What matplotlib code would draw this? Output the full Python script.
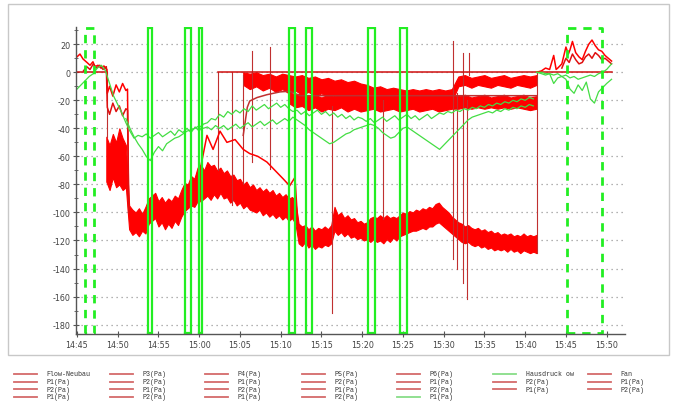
import numpy as np
import matplotlib
matplotlib.use("Agg")
import matplotlib.pyplot as plt
from matplotlib.lines import Line2D
from matplotlib.patches import Rectangle

nan = np.nan
# ---------------- data (time = minutes after 14:45, values in Pa) ----------------
XTICK_MIN = [0, 5, 10, 15, 20, 25, 30, 35, 40, 45, 50, 55, 60, 65]
XTICK_LABELS = ["14:45", "14:50", "14:55", "15:00", "15:05", "15:10", "15:15",
                "15:20", "15:25", "15:30", "15:35", "15:40", "15:45", "15:50"]
YTICKS = [20, 0, -20, -40, -60, -80, -100, -120, -140, -160, -180]

# main low-pressure band (envelope of the dense red traces)
BAND_T = np.round(np.arange(3.6, 56.41, 0.4), 2)
BAND_TOP = [-46, -52, -44, -50, -40, -47, -52, -95, -98, -100, -97, -101, -96, -90, -88, -86,
            -92, -89, -93, -90, -92, -88, -90, -84, -79, -80, -74, -76, -68, -66, -70, -64,
            -67, -66, -70, -68, -72, -70, -74, -73, -77, -76, -80, -78, -82, -80, -84, -82,
            -85, -83, -86, -84, -88, -86, -89, -87, -90, -89, -92, -108, -110, -109, -112, -110,
            -113, -111, -112, -110, -112, -109, -96, -102, -100, -104, -102, -105, -104, -107, -106, -108,
            -107, -104, -103, -104, -102, -104, -102, -104, -103, -104, -102, -100, -101, -99, -100, -98,
            -99, -97, -98, -96, -97, -94, -93, -96, -98, -100, -103, -105, -107, -108, -110, -109,
            -111, -112, -111, -113, -112, -114, -113, -115, -114, -116, -115, -116, -115, -117, -116, -117,
            -115, -117, -116, -117, -116]
BAND_BOT = [-78, -84, -75, -82, -80, -84, -82, -112, -116, -114, -117, -113, -115, -108, -106, -104,
            -110, -107, -112, -108, -111, -106, -109, -103, -99, -97, -95, -96, -92, -92, -90, -88,
            -91, -87, -90, -86, -90, -89, -93, -91, -95, -93, -97, -95, -98, -99, -100, -98,
            -102, -100, -103, -101, -104, -102, -105, -103, -106, -104, -108, -122, -124, -121, -125, -123,
            -126, -124, -125, -123, -124, -122, -113, -116, -114, -117, -115, -118, -117, -119, -118, -120,
            -119, -121, -119, -121, -120, -122, -119, -121, -118, -120, -117, -116, -115, -114, -113, -113,
            -112, -111, -112, -110, -110, -108, -107, -109, -111, -113, -115, -117, -119, -121, -122, -121,
            -123, -124, -123, -125, -124, -126, -125, -127, -126, -127, -126, -128, -126, -128, -127, -129,
            -127, -128, -129, -128, -129]

# upper pressure bands (15:02 - 15:41)
UB_T = np.round(np.arange(17.2, 56.41, 0.8), 2)
UB1_TOP = [nan, nan, nan, nan, 0, -1, 0, -2, -1, -3, -1, -2, -3, -2, -4, -3, -5, -4, -6, -5,
           -7, -6, -8, -9, -11, -10, -12, -11, -12, -13, -12, -13, -12, -13, -12, -13, -12,
           -3, -2, -4, -3, -2, -4, -3, -2, -4, -3, -2, -3, -2]
UB1_BOT = [nan, nan, nan, nan, -9, -12, -10, -13, -11, -14, -12, -15, -13, -16, -14, -17, -15, -18, -16, -18,
           -17, -19, -18, -20, -19, -21, -20, -22, -21, -22, -21, -22, -21, -22, -21, -22, -21,
           -10, -9, -11, -9, -10, -11, -9, -10, -11, -9, -10, -11, -9]
UB2_TOP = [nan] * 11 + [-14, -16, -15, -17, -16, -18, -16, -17, -15, -17, -16, -18, -17, -16, -18, -17,
                        -16, -18, -17, -16, -18, -17, -16, -18, -17, -16, -17, -16, -18, -17, -16, -18,
                        -17, -16, -18, -17, -16, -18, -17]
UB2_BOT = [nan] * 11 + [-22, -25, -24, -27, -25, -28, -26, -27, -25, -28, -26, -28, -27, -26, -28, -27,
                        -26, -28, -27, -26, -28, -27, -26, -28, -27, -26, -26, -25, -26, -25, -26, -25,
                        -26, -25, -26, -25, -26, -27, -26]

# individual red traces
S1_T = [0, 0.37, 0.74, 1.23, 1.6, 1.96, 2.2, 2.58, 2.94, 3.31, 3.68, 3.72, 4.0, 4.4, 4.8, 5.2, 5.6, 6.0, 6.2, 6.35]
S1_V = [11, 13, 9.5, 7, 5, 7.5, 4, 5, 3, 4.5, 2, -15, -10, -17, -9, -14, -8, -13, -12, -98]
S2_T = [0.8, 1.2, 1.6, 2.0, 2.4, 2.8, 3.2, 3.6, 3.72, 4.0, 4.4, 4.8, 5.2, 5.6, 6.0, 6.2, 6.35]
S2_V = [1, 4, 2, 6, 3, 5, 2, 4, -25, -30, -22, -28, -24, -31, -26, -27, -100]
HOOK_T = [15.1, 15.95, 16.7, 17.55, 18.4, 19.4, 20.4, 21.2, 22.2, 23.3, 24.3, 25.3, 26.1, 26.75, 27.1]
HOOK_V = [-70, -45, -55, -42, -50, -48, -55, -58, -60, -64, -70, -76, -81, -75, -108]
LOWB_T = [20.4, 20.9, 21.2, 22.1, 23.3, 24.9, 26.1, 27.4, 56.4]
LOWB_V = [-45, -25, -20.5, -18, -16, -14, -13.5, -16.7, -16.7]
FAN_T = [0.0, 3.68, 3.69, 17.3, 17.31, 65.6]
FAN_V = [0, 0, nan, nan, 0, 0]
RE1_T = [56.4, 57, 57.5, 58, 58.5, 58.8, 59, 59.5, 60, 60.3, 60.5, 60.8, 61.2, 61.6, 62, 62.4,
         62.8, 63.2, 63.6, 64, 64.4, 64.8, 65.2, 65.6]
RE1_V = [0, 1, 3, 2, 12, 2, 3, 6, 18, 13, 16, 22, 14, 11, 9, 15, 20, 23, 19, 16, 15, 12, 10, 8]
RE2_T = [59.5, 60, 60.4, 60.8, 61.2, 61.6, 62, 62.4, 62.8, 63.2, 63.6, 64, 64.4, 64.8, 65.2, 65.6]
RE2_V = [3, 10, 7, 13, 9, 6, 7, 11, 13, 10, 14, 12, 9, 10, 8, 6]

# thin dark-red spikes (time, from, to)
SPIKE_T = [3.68, 17.3, 19.0, 20.4, 21.5, 23.7, 31.3, 37.5, 46.1, 46.6, 47.4, 47.9, 48.1, 56.4]
SPIKE_FROM = [0, -70, -95, -80, -64, -69, -24, -20, 22, -15, 14, -20, 14, 0]
SPIKE_TO = [-46, 0, 0, -2, 15, 18, -172, -105, -133, -140, -150, -162, -2, -129]

# green pressure traces
G_T = np.round(np.arange(0, 56.01, 0.5), 2)
G1_V = [-12, -9, -6, -3, -1, 3, 5, 1, -8, -17, -23, -29, -36, -42, -47, -45, -46, -44, -47, -45,
        -43, -46, -44, -42, -45, -41, -43, -40, -43, -39, -42, -37, -36, -33, -34, -30, -32, -28,
        -30, -27, -29, -26, -28, -24, -27, -25, -23, -26, -24, -22, -25, -23, -26, -28, -27, -30,
        -28, -31, -29, -27, -30, -28, -31, -29, -32, -30, -33, -31, -34, -32, -33, -35, -33, -36,
        -34, -32, -35, -33, -31, -34, -32, -30, -33, -31, -34, -32, -30, -33, -31, -29, -30, -28,
        -29, -27, -28, -26, -27, -25, -26, -24, -25, -23, -24, -22, -23, -21, -22, -20, -21, -19,
        -20, -18, -19]
G2_V = [nan] * 12 + [-33, -40, -46, -51, -55, -60, -63, -57, -53, -56, -51, -49, -47, -46, -44, -42,
                     -41, -40, -38, -40, -39, -41, -38, -40, -38, -41, -39, -37, -40, -38, -36, -39,
                     -37, -35, -38, -36, -34, -37, -35, -33, -35, -32, -34, -36, -38, -41, -43, -45,
                     -47, -49, -51, -50, -48, -46, -44, -43, -41, -40, -39, -38, -37, -38, -40, -43,
                     -45, -47, -46, -43, -40, -39, -41, -43, -45, -47, -49, -51, -53, -55, -52, -49,
                     -46, -43, -40, -37, -34, -32, -31, -30, -29, -28, -29, -27, -28, -26, -27, -25,
                     -26, -24, -25, -23, -24]
GE_T = [56.4, 57, 57.5, 58, 58.5, 59, 59.5, 60, 60.5, 61, 61.5, 62, 62.5, 63, 63.5, 64, 64.5, 65, 65.6]
GE1_V = [0, -1, -2, -1, -8, -4, -3, -5, -12, -15, -9, -13, -7, -19, -22, -14, -11, -8, -5]
GE2_V = [0, 0, -1, -1, -2, -1, -3, -2, -4, -3, -5, -4, -3, -2, -3, -1, 0, 2, 6]

# green on/off signals (start, end of each "on" period)
PULSE_ON = [8.66, 13.25, 15.0, 26.0, 28.06, 35.7, 39.7]
PULSE_OFF = [9.15, 13.95, 15.4, 26.75, 28.8, 36.56, 40.45]
DPULSE_ON = [0.98, 60.09]
DPULSE_OFF = [2.12, 64.38]
SIG_HIGH, SIG_LOW = 31.5, -185.8

LEGEND_LABELS = ["Flow-Neubau", "P1(Pa)", "P2(Pa)", "P1(Pa)",
                 "P3(Pa)", "P2(Pa)", "P1(Pa)", "P2(Pa)",
                 "P4(Pa)", "P1(Pa)", "P2(Pa)", "P1(Pa)",
                 "P5(Pa)", "P2(Pa)", "P1(Pa)", "P2(Pa)",
                 "P6(Pa)", "P1(Pa)", "P2(Pa)", "P1(Pa)",
                 "Hausdruck ow", "P2(Pa)", "P1(Pa)",
                 "Fan", "P1(Pa)", "P2(Pa)"]
LEGEND_GREEN = {19, 20}
LEGEND_ROWS = [4, 4, 4, 4, 4, 3, 3]

# ---------------- drawing ----------------
RED = "#ff0000"
DRED = "#c03030"
GREEN_THIN = "#44dd44"
GREEN_SIG = "#22ee22"

W, H = 675, 406
fig = plt.figure(figsize=(W / 100, H / 100), dpi=100)
ax = fig.add_axes([76 / W, 1 - 335 / H, (625 - 76) / W, (335 - 28) / H])
ax.set_xlim(-0.12, 67.25)
ax.set_ylim(-186.7, 32.3)

ax.fill_between(BAND_T, BAND_TOP, BAND_BOT, color=RED, lw=0.8, ec=RED, zorder=3)
ax.fill_between(UB_T, UB1_TOP, UB1_BOT, color=RED, lw=0.8, ec=RED, zorder=3)
ax.fill_between(UB_T, UB2_TOP, UB2_BOT, color=RED, lw=0.8, ec=RED, zorder=3)

for t, v, c in [(S1_T, S1_V, RED), (S2_T, S2_V, "#e01010"), (HOOK_T, HOOK_V, RED),
                (LOWB_T, LOWB_V, DRED), (FAN_T, FAN_V, "#d01010"),
                (RE1_T, RE1_V, RED), (RE2_T, RE2_V, "#e01010")]:
    ax.plot(t, v, color=c, lw=1.1, zorder=4)

for t, a, b in zip(SPIKE_T, SPIKE_FROM, SPIKE_TO):
    ax.plot([t, t], [a, b], color=DRED, lw=0.8, zorder=3.5)

ax.plot(G_T, G1_V, color=GREEN_THIN, lw=0.9, zorder=5)
ax.plot(G_T, G2_V, color=GREEN_THIN, lw=0.9, zorder=5)
ax.plot(GE_T, GE1_V, color=GREEN_THIN, lw=0.9, zorder=5)
ax.plot(GE_T, GE2_V, color=GREEN_THIN, lw=0.9, zorder=5)

for a, b in zip(PULSE_ON, PULSE_OFF):
    ax.plot([a, a, b, b, a], [SIG_LOW, SIG_HIGH, SIG_HIGH, SIG_LOW, SIG_LOW],
            color=GREEN_SIG, lw=1.6, zorder=6, solid_joinstyle="miter")
for a, b in zip(DPULSE_ON, DPULSE_OFF):
    ax.plot([a, a, b, b, a], [SIG_LOW, SIG_HIGH, SIG_HIGH, SIG_LOW, SIG_LOW],
            color=GREEN_SIG, lw=2.0, ls=(0, (3, 2.5)), zorder=6)

for s in ["top", "right"]:
    ax.spines[s].set_visible(False)
for s in ["left", "bottom"]:
    ax.spines[s].set_color("#555555")
    ax.spines[s].set_linewidth(1.0)
    ax.spines[s].set_zorder(7)

ax.set_xticks(XTICK_MIN)
ax.set_xticklabels(XTICK_LABELS)
ax.set_yticks(YTICKS)
ax.set_yticklabels([str(v) for v in YTICKS])
ax.set_yticks(list(range(30, -190, -10)), minor=True)
ax.tick_params(axis="both", which="major", direction="inout", length=4, width=0.8,
               colors="#555555", labelsize=5.8, labelcolor="#444444", pad=2)
ax.tick_params(axis="y", which="minor", direction="inout", length=3, width=0.6, colors="#555555")
ax.yaxis.grid(True, which="major", ls=(0, (1, 3)), color="#999999", lw=0.9)
ax.set_axisbelow(True)

# outer frame
fig.add_artist(Rectangle((8 / W, 1 - 356 / H), (669 - 8) / W, (356 - 5) / H,
                         transform=fig.transFigure, fill=False, ec="#c8c8c8", lw=1.0))

# legend (7 columns, column-major)
col_x = [14, 110, 205, 302, 397, 493, 588]
row_y = [375, 382.7, 390.3, 398]
idx = 0
for ci, nrows in enumerate(LEGEND_ROWS):
    for ri in range(nrows):
        lab = LEGEND_LABELS[idx]
        col = "#88dd88" if idx in LEGEND_GREEN else "#d46a6a"
        x0 = col_x[ci]
        y0 = 1 - row_y[ri] / H
        fig.add_artist(Line2D([x0 / W, (x0 + 23) / W], [y0, y0], transform=fig.transFigure,
                              color=col, lw=1.3))
        fig.text((x0 + 32.5) / W, y0, lab, fontsize=4.8, family="Liberation Mono",
                 color="#333333", va="center", ha="left")
        idx += 1

fig.savefig("out.png", dpi=100)
